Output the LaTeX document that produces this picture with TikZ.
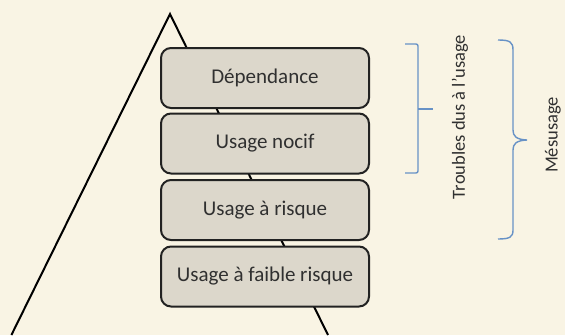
\documentclass[tikz,border=0pt]{standalone}
\usepackage{fontspec}
\setmainfont{Carlito}
\definecolor{bgc}{HTML}{F9F4E4}
\definecolor{boxfill}{HTML}{DCD7CB}
\definecolor{boxline}{HTML}{222222}
\definecolor{txt}{HTML}{303030}
\definecolor{bracecol}{RGB}{104,146,198}
\begin{document}
\begin{tikzpicture}[x=1pt,y=-1pt,
  level/.style={draw=boxline, line width=2pt, fill=boxfill, rounded corners=10pt,
    minimum width=208pt, minimum height=60pt, inner sep=0pt, text=txt,
    font=\fontsize{21}{25}\selectfont},
  side/.style={text=txt, rotate=90, inner sep=0pt, font=\fontsize{18.5}{22}\selectfont},
  bracket/.style={draw=bracecol, line width=1.4pt},
  tri/.style={draw=black, line width=2pt}]
\fill[bgc] (0,0) rectangle (565,335);
\useasboundingbox (0,0) rectangle (565,335);
\coordinate (apex) at (170,14);
\coordinate (bl) at (11.4,335);
\coordinate (br) at (328,335);
\draw[tri] (bl) -- (apex) -- (br);
\node[level] (dep) at (265,78) {Dépendance};
\node[level] (noc) at (265,143.5) {Usage nocif};
\node[level] (ris) at (265,210) {Usage à risque};
\node[level] (fai) at (265,276.5) {Usage à faible risque};
\draw[bracket, rounded corners=2pt] (405,44) -- (418,44) -- (418,173) -- (405,173);
\draw[bracket] (418,109) -- (433,109);
\draw[bracket] (498,40) .. controls (510,40) and (513,42) .. (513,50) -- (513,130)
  .. controls (513,136) and (516,139.5) .. (527,140)
  .. controls (516,140.5) and (513,144) .. (513,150) -- (513,230)
  .. controls (513,237) and (510,239) .. (498,239);
\node[side] (trb) at (460,117) {Troubles dus à l’usage};
\node[side] (mes) at (553,135) {Mésusage};
\end{tikzpicture}
\end{document}
